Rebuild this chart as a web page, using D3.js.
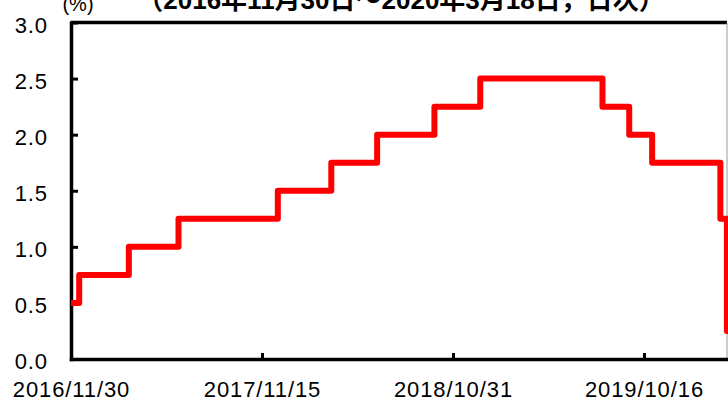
<!DOCTYPE html>
<html>
<head>
<meta charset="utf-8">
<script src="https://cdn.jsdelivr.net/npm/d3@7"></script>
<style>
    body { margin: 0; background: #fff; }
    svg { display: block; font-family: "Liberation Sans", Arial, sans-serif; }
</style>
</head>
<body>
<svg id="chart"></svg>
<script>
// policy rate (upper bound), value from each date onward
const changeDates = ["2016-11-30", "2016-12-15", "2017-03-16", "2017-06-15", "2017-12-14",
    "2018-03-22", "2018-06-14", "2018-09-27", "2018-12-20", "2019-08-01",
    "2019-09-19", "2019-10-31", "2020-03-04", "2020-03-16", "2020-03-18"];
const rates = [0.5, 0.75, 1.0, 1.25, 1.5, 1.75, 2.0, 2.25, 2.5, 2.25, 2.0, 1.75, 1.25, 0.25, 0.25];

const xTickLabels = ["2016/11/30", "2017/11/15", "2018/10/31", "2019/10/16"];
const yTicks = [0, 0.5, 1.0, 1.5, 2.0, 2.5, 3.0];

const titleText = "（2016年11月30日～2020年3月18日，日次）";
const unitText = "(%)";

const parseDate = d3.utcParse("%Y-%m-%d");
const parseTick = d3.utcParse("%Y/%m/%d");

let width = 728;
let height = 401;
let margin = { top: 22.5, right: 0, bottom: 42, left: 71 };

let dataset = changeDates.map((d, i) => {
    return { date: parseDate(d), y: rates[i] };
});

let xScale = d3
    .scaleUtc()
    .domain([parseDate(changeDates[0]), parseDate(changeDates[changeDates.length - 1])])
    .range([margin.left, width - margin.right]);

let yScale = d3
    .scaleLinear()
    .domain([0, 3])
    .range([height - margin.bottom, margin.top]);

let svg = d3.select("#chart")
    .attr("width", width)
    .attr("height", height);

// frame: top black, right thin grey
svg.append("line")
    .attr("x1", xScale.range()[0])
    .attr("x2", 727)
    .attr("y1", yScale(3))
    .attr("y2", yScale(3))
    .attr("stroke", "black")
    .attr("stroke-width", 3.5);

svg.append("line")
    .attr("x1", 727)
    .attr("x2", 727)
    .attr("y1", yScale(3))
    .attr("y2", yScale(0))
    .attr("stroke", "#999")
    .attr("stroke-width", 1);

let xAxis = svg.append("g")
    .attr("class", "x axis")
    .attr("transform", "translate(0," + yScale(0) + ")")
    .call(d3.axisBottom(xScale)
        .tickValues(xTickLabels.map(parseTick))
        .tickFormat(d3.utcFormat("%Y/%m/%d"))
        .tickSizeInner(-6)
        .tickSizeOuter(0)
        .tickPadding(22));

let yAxis = svg.append("g")
    .attr("class", "y axis")
    .attr("transform", "translate(" + margin.left + ",0)")
    .call(d3.axisLeft(yScale)
        .tickValues(yTicks)
        .tickFormat(d3.format(".1f"))
        .tickSizeInner(-7)
        .tickSizeOuter(0)
        .tickPadding(23));

svg.selectAll(".axis .domain")
    .attr("stroke", "black")
    .attr("stroke-width", 3.5)
    .attr("stroke-linecap", "square");

svg.selectAll(".axis .tick line")
    .attr("stroke", "black")
    .attr("stroke-width", 3);

svg.selectAll(".axis text")
    .attr("fill", "black")
    .attr("font-size", 22)
    .attr("letter-spacing", "0.9px")
    .attr("font-family", "Liberation Sans, Arial, sans-serif");

yAxis.selectAll("text").attr("dy", "0.45em");

let line = d3.line()
    .x(d => xScale(d.date))
    .y(d => yScale(d.y))
    .curve(d3.curveStepAfter);

svg.append("path")
    .datum(dataset)
    .attr("d", line)
    .attr("fill", "none")
    .attr("stroke", "#ff0000")
    .attr("stroke-width", 6)
    .attr("stroke-linejoin", "round");

svg.append("text")
    .attr("x", 78)
    .attr("y", 11)
    .attr("text-anchor", "middle")
    .attr("font-size", 20)
    .text(unitText);

svg.append("text")
    .attr("x", 401)
    .attr("y", 9)
    .attr("text-anchor", "middle")
    .attr("font-size", 26)
    .attr("font-weight", "bold")
    .attr("font-family", "Liberation Sans, 'Noto Sans CJK JP', sans-serif")
    .text(titleText);
</script>
</body>
</html>
